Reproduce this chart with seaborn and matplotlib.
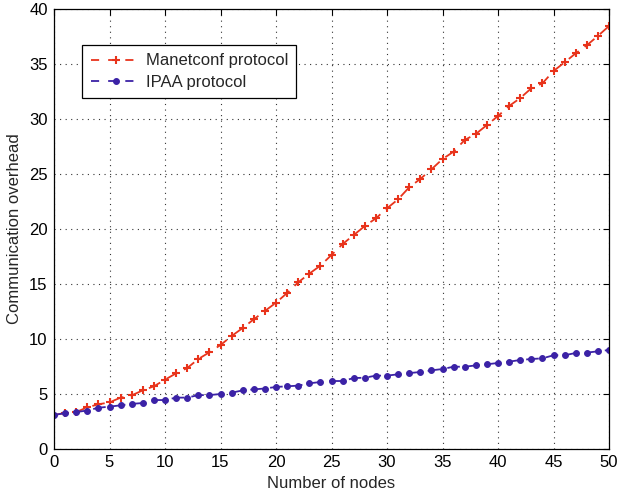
import numpy as np
import pandas as pd
import matplotlib
matplotlib.use("Agg")
import matplotlib.pyplot as plt
import seaborn as sns

nodes = list(range(0, 51))
manetconf = [3.09, 3.27, 3.36, 3.79, 4.06, 4.24, 4.67, 4.88, 5.33, 5.70,
             6.30, 6.88, 7.36, 8.18, 8.79, 9.45, 10.27, 11.00, 11.79, 12.55,
             13.30, 14.18, 15.15, 15.94, 16.67, 17.64, 18.63, 19.45, 20.27, 20.97,
             21.88, 22.70, 23.79, 24.55, 25.42, 26.36, 27.03, 28.09, 28.64, 29.45,
             30.27, 31.18, 31.90, 32.79, 33.24, 34.36, 35.15, 35.97, 36.70, 37.55,
             38.45]
ipaa = [3.09, 3.27, 3.36, 3.50, 3.75, 3.85, 3.97, 4.10, 4.18, 4.45,
        4.45, 4.67, 4.67, 4.90, 4.90, 5.00, 5.12, 5.33, 5.42, 5.50,
        5.64, 5.70, 5.76, 5.97, 6.09, 6.18, 6.18, 6.45, 6.48, 6.67,
        6.67, 6.79, 6.90, 7.00, 7.15, 7.27, 7.48, 7.48, 7.60, 7.70,
        7.82, 7.94, 8.09, 8.18, 8.24, 8.52, 8.52, 8.73, 8.76, 8.88,
        9.00]
labels = ["Manetconf protocol", "IPAA protocol"]
xticks = list(range(0, 51, 5))
yticks = list(range(0, 41, 5))

sns.set_style("white")
plt.rcParams['font.family'] = ['Liberation Sans', 'DejaVu Sans']

fig = plt.figure(figsize=(6.18, 4.96), dpi=100)
ax = fig.add_axes([54/618, 47/496, 555/618, 440/496])

red = "#E8341C"
blue = "#3B22A6"

df1 = pd.DataFrame({"x": nodes, "y": manetconf})
df2 = pd.DataFrame({"x": nodes, "y": ipaa})
sns.lineplot(data=df1, x="x", y="y", ax=ax, color=red, linewidth=1.3,
             marker="+", markersize=5.5, markeredgewidth=1.5, markeredgecolor=red,
             label=labels[0])
sns.lineplot(data=df2, x="x", y="y", ax=ax, color=blue, linewidth=1.3,
             marker="o", markersize=4.2, markeredgecolor=blue, markerfacecolor=blue,
             label=labels[1])
for line in ax.get_lines()[:2]:
    line.set_dashes([7, 4])

ax.set_xlim(0, 50)
ax.set_ylim(0, 40)
ax.set_xticks(xticks)
ax.set_yticks(yticks)
ax.tick_params(direction="in", length=4, width=0.8, top=True, right=True,
               labelsize=12, colors="black", pad=4.5)
ax.grid(True, linestyle=(0, (1, 4)), color="#333333", linewidth=0.8)
for s in ax.spines.values():
    s.set_visible(True)
    s.set_color("black")
    s.set_linewidth(0.9)
ax.set_xlabel("Number of nodes", fontsize=12, labelpad=4)
ax.set_ylabel("Communication overhead", fontsize=12, labelpad=5)

leg = ax.legend(loc="upper left", bbox_to_anchor=(0.051, 0.918), fontsize=12,
                frameon=True, fancybox=False, framealpha=1, edgecolor="black",
                handlelength=3.0, borderpad=0.5, labelspacing=0.4, handletextpad=0.3,
                borderaxespad=0)
leg.get_frame().set_linewidth(0.9)
for h in leg.get_lines():
    h.set_dashes([4.5, 5])

fig.savefig("out.png", dpi=100)
